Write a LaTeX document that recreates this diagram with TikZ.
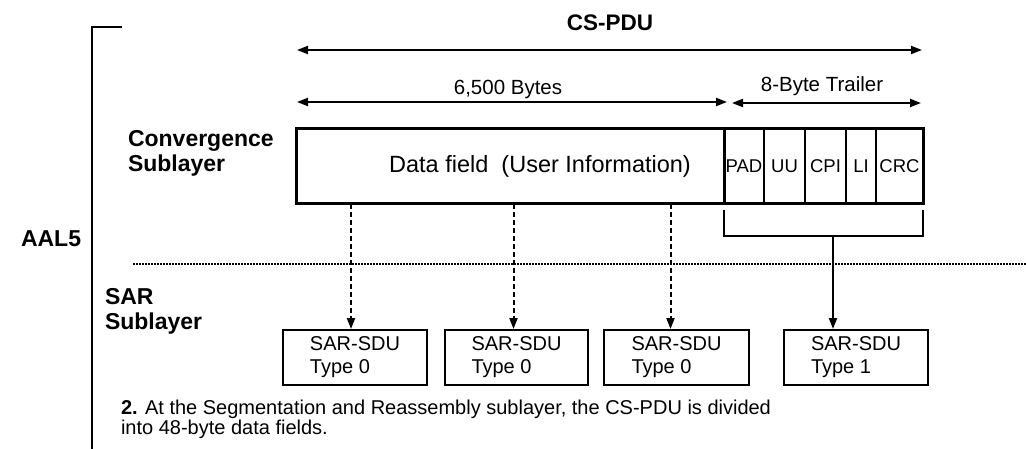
\documentclass[tikz,border=0pt]{standalone}
\usepackage{fontspec}
\setmainfont{Liberation Sans}
\usetikzlibrary{arrows.meta}

\begin{document}
\begin{tikzpicture}[x=1pt,y=-1pt,line width=2pt,
  head/.style={-{Triangle[length=11pt,width=8pt]}},
  twohead/.style={{Triangle[length=11pt,width=8pt]}-{Triangle[length=11pt,width=8pt]}},
  txt/.style={inner sep=0pt,anchor=base},
  side/.style={inner sep=0pt,anchor=base west,align=left,font=\fontsize{23}{25}\selectfont\bfseries},
  cell/.style={draw,line width=1.3pt,inner sep=0pt,minimum height=74pt},
  trail/.style={cell,font=\fontsize{18.5}{20}\selectfont},
  sdu/.style={draw,inner sep=0pt,minimum width=144pt,minimum height=55pt,align=left,
              font=\fontsize{20}{23}\selectfont},
  dashedarrow/.style={head,dash pattern=on 5pt off 3pt},
  dottedrule/.style={line width=1.5pt,dash pattern=on 1.5pt off 1.5pt}]
\useasboundingbox (0,0) rectangle (1026,449);

% AAL5 bracket
\coordinate (br-top) at (122,27);
\coordinate (br-bot) at (92,449);
\draw (br-top) -| (br-bot);
\node[side] (aal5) at (20,247) {AAL5};

% PDU length markers
\node[txt,font=\fontsize{22.5}{26}\selectfont\bfseries] (cspdu) at (610,31) {CS-PDU};
\coordinate (cs-l) at (297,50);
\coordinate (cs-r) at (922,50);
\draw[twohead] (cs-l) -- (cs-r);

\node[txt,font=\fontsize{20.5}{24}\selectfont] (bytes) at (508,95) {6,500 Bytes};
\coordinate (by-l) at (297,102);
\coordinate (by-r) at (727,102);
\draw[twohead] (by-l) -- (by-r);

\node[txt,font=\fontsize{20.5}{24}\selectfont] (trailer) at (822,92) {8-Byte Trailer};
\coordinate (tr-l) at (732,103);
\coordinate (tr-r) at (921,103);
\draw[twohead] (tr-l) -- (tr-r);

% Convergence sublayer PDU (multi-line nodes sit on their last baseline)
\node[side] (conv) at (127,172) {Convergence\\Sublayer};
\node[cell,minimum width=427pt] (data) at (510.5,166) {};
\node[txt,font=\fontsize{23.5}{26}\selectfont] (datatext) at (540,173) {Data field\ \ (User Information)};
\node[trail,minimum width=40pt] (pad) at (744,166) {PAD};
\node[trail,minimum width=41pt] (uu) at (784.5,166) {UU};
\node[trail,minimum width=41pt] (cpi) at (825.5,166) {CPI};
\node[trail,minimum width=30pt] (li) at (861,166) {LI};
\node[trail,minimum width=47pt] (crc) at (899.5,166) {CRC};
\draw (data.north west) rectangle (crc.south east);
\draw (data.north east) -- (data.south east);

% trailer brace
\coordinate (tb-l) at (724,210);
\coordinate (tb-m) at (833,236);
\coordinate (tb-r) at (923,210);
\draw (tb-l) |- (tb-m) -| (tb-r);

% sublayer boundary
\coordinate (rule-l) at (133,264);
\coordinate (rule-r) at (1026,264);
\draw[dottedrule] (rule-l) -- (rule-r);

% SAR sublayer
\node[side] (sar) at (104,330) {SAR\\Sublayer};
\node[sdu,anchor=north west] (sdu1) at (282,329) {SAR-SDU\\Type 0};
\node[sdu,anchor=north west,minimum width=143pt] (sdu2) at (444,329) {SAR-SDU\\Type 0};
\node[sdu,anchor=north west,minimum width=145pt] (sdu3) at (603,329) {SAR-SDU\\Type 0};
\node[sdu,anchor=north west] (sdu4) at (783,329) {SAR-SDU\\Type 1};

\draw[dashedarrow] ([xshift=-4pt]data.south -| sdu1.north) -- ([xshift=-4pt]sdu1.north);
\draw[dashedarrow] ([xshift=-3pt]data.south -| sdu2.north) -- ([xshift=-3pt]sdu2.north);
\draw[dashedarrow] ([xshift=-6pt]data.south -| sdu3.north) -- ([xshift=-6pt]sdu3.north);
\draw[head] (tb-m) -- (tb-m |- sdu4.north);

% caption
\node[inner sep=0pt,anchor=base west,align=left,font=\fontsize{20}{20}\selectfont] (caption) at (120,434)
  {\textbf{2.} At the Segmentation and Reassembly sublayer, the CS-PDU is divided\\into 48-byte data fields.};
\end{tikzpicture}
\end{document}
